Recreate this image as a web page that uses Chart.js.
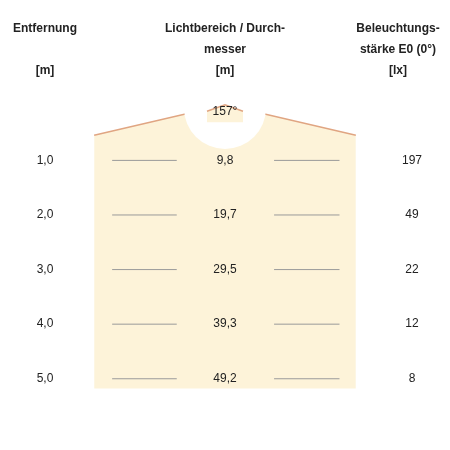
<!DOCTYPE html>
<html><head><meta charset="utf-8">
<script src="https://cdn.jsdelivr.net/npm/chart.js@4"></script>
<style>html,body{margin:0;background:#fff}#w{width:450px;height:450px}</style>
</head><body><div id="w"><canvas id="c"></canvas></div>
<script>
// Werte aus der Tabelle
const distances = [1.0, 2.0, 3.0, 4.0, 5.0];
const diameters = ['9,8', '19,7', '29,5', '39,3', '49,2'];
const lux = [197, 49, 22, 12, 8];
const angle = '157°';

const cream = '#fdf3d9';
const edge = '#e0a582';

// Oberkante des Lichtkegels (x in Pixeleinheiten, y in Metern)
const coneTop = [{x:65,y:0.54},{x:225,y:-0.02},{x:385,y:0.54}];
const coneBottom = 5.18;

const rowLines = [];
distances.forEach(d => {
  rowLines.push({data:[{x:87,y:d},{x:166,y:d}], borderColor:'#9a9a9a', borderWidth:1, pointRadius:0, order:1});
  rowLines.push({data:[{x:285,y:d},{x:365,y:d}], borderColor:'#9a9a9a', borderWidth:1, pointRadius:0, order:1});
});

const textPlugin = {
  id: 'texts',
  afterDatasetsDraw(chart) {
    const ctx = chart.ctx, ys = chart.scales.y;
    ctx.save();
    ctx.fillStyle = '#222';
    ctx.textAlign = 'center';
    ctx.textBaseline = 'middle';
    ctx.font = 'bold 12px "Liberation Sans", Arial';
    ctx.fillText('Entfernung', 45, 29);
    ctx.fillText('[m]', 45, 71);
    ctx.fillText('Lichtbereich / Durch-', 225, 29);
    ctx.fillText('messer', 225, 50);
    ctx.fillText('[m]', 225, 71);
    ctx.fillText('Beleuchtungs-', 398, 29);
    ctx.fillText('stärke E0 (0°)', 398, 50);
    ctx.fillText('[lx]', 398, 71);
    ctx.font = '12px "Liberation Sans", Arial';
    ctx.fillText(angle, 225, 112);
    distances.forEach((d, i) => {
      const y = ys.getPixelForValue(d);
      ctx.fillText(d.toFixed(1).replace('.', ','), 45, y);
      ctx.fillText(diameters[i], 225, y);
      ctx.fillText(String(lux[i]), 412, y);
    });
    ctx.restore();
  }
};

new Chart(document.getElementById('c'), {
  type: 'line',
  data: {
    datasets: [
      {data: coneTop, borderColor: edge, backgroundColor: cream, fill: {value: coneBottom}, borderWidth: 1.5, pointRadius: 0, order: 5},
      {data: [{x:225, y:0.04}], showLine: false, pointRadius: 41, pointBackgroundColor: '#fff', pointBorderWidth: 0, pointBorderColor: '#fff', clip: false, order: 4},
      {data: [{x:203,y:0.1},{x:225,y:-0.02},{x:247,y:0.1}], borderColor: edge, backgroundColor: cream, fill: {value: 0.3}, borderWidth: 1.5, pointRadius: 0, order: 3},
      {data: [{x:225, y:0.04}], showLine: false, pointRadius: 27, pointBackgroundColor: 'rgba(0,0,0,0)', pointBorderWidth: 0, clip: false, order: 2},
      ...rowLines
    ]
  },
  options: {
    responsive: true, maintainAspectRatio: false, animation: false,
    layout: {padding: 0},
    plugins: {legend: {display: false}, tooltip: {enabled: false}},
    scales: {
      x: {type: 'linear', min: 0, max: 450, display: false},
      y: {type: 'linear', min: -1.187, max: 5.554, reverse: true, display: false}
    }
  },
  plugins: [textPlugin]
});
</script></body></html>
